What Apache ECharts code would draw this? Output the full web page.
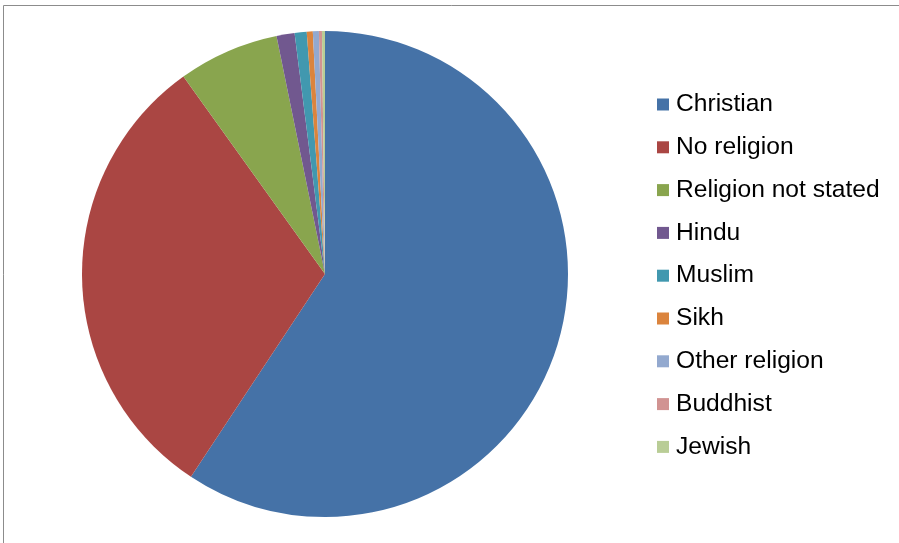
<!DOCTYPE html>
<html>
<head>
<meta charset="utf-8">
<script src="https://cdn.jsdelivr.net/npm/echarts@6/dist/echarts.min.js"></script>
<style>
  html, body { margin: 0; padding: 0; background: #fff; }
  #chart { width: 899px; height: 543px; }
</style>
</head>
<body>
<div id="chart"></div>
<script>
// Religion breakdown (percent of population)
const categories = ['Christian', 'No religion', 'Religion not stated', 'Hindu', 'Muslim', 'Sikh', 'Other religion', 'Buddhist', 'Jewish'];
const shares = [59.3, 30.8, 6.7, 1.2, 0.8, 0.4, 0.4, 0.2, 0.2];
const palette = ['#4572A7', '#AA4643', '#89A54E', '#71588F', '#4198AF', '#DB843D', '#93A9CF', '#D19392', '#B9CD96'];

const chart = echarts.init(document.getElementById('chart'), null, { renderer: 'canvas' });

chart.setOption({
  animation: false,
  backgroundColor: '#ffffff',
  color: palette,
  graphic: [{
    type: 'polyline',
    shape: { points: [[3.5, 543], [3.5, 5.5], [899, 5.5]] },
    style: { stroke: '#8c8c8c', lineWidth: 1, fill: null }
  }],
  legend: {
    orient: 'vertical',
    left: 657,
    top: 92,
    padding: 0,
    icon: 'rect',
    itemWidth: 12,
    itemHeight: 12,
    itemGap: 17.8,
    textStyle: {
      fontFamily: 'Liberation Sans, Arial, sans-serif',
      fontSize: 24.6,
      lineHeight: 24,
      color: '#000000',
      padding: [0, 0, 0, 2]
    },
    data: categories
  },
  series: [{
    type: 'pie',
    center: [325, 274],
    radius: [0, 243],
    startAngle: 90,
    clockwise: true,
    label: { show: false },
    labelLine: { show: false },
    emphasis: { disabled: true },
    itemStyle: { borderWidth: 0 },
    data: categories.map((name, i) => ({ name, value: shares[i] }))
  }]
});
</script>
</body>
</html>
